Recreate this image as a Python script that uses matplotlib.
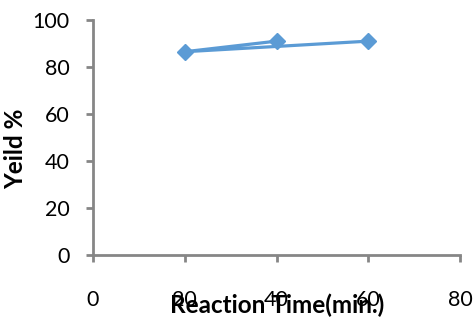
import matplotlib.pyplot as plt

plt.rcParams['font.family'] = ['Lato', 'DejaVu Sans']

# data (order as drawn in the reference)
times = [40, 20, 60]
yields = [91.0, 86.5, 91.0]

xticks = [0, 20, 40, 60, 80]
yticks = [0, 20, 40, 60, 80, 100]

lineColour = "#5b9bd5"
axisColour = "#868686"

fig = plt.figure(figsize=(4.76, 3.22), dpi=100, facecolor='w')
ax = fig.add_axes([93/476, 1-255/322, (460-93)/476, (255-20)/322])

ax.plot(times, yields, color=lineColour, linewidth=2.3, marker='D', markersize=8.5, clip_on=False)

ax.set_xlim(0, 80)
ax.set_ylim(0, 100)
ax.set_xticks(xticks)
ax.set_yticks(yticks)

for side in ['top', 'right']:
    ax.spines[side].set_visible(False)
for side in ['left', 'bottom']:
    ax.spines[side].set_color(axisColour)
    ax.spines[side].set_linewidth(2)

ax.tick_params(axis='both', direction='out', length=5, width=2, color=axisColour, labelsize=15.5, labelcolor='black')
ax.tick_params(axis='x', pad=20)
ax.tick_params(axis='y', pad=12)

# axis titles
fig.text(277/476, 1-305/322, "Reaction Time(min.)", ha='center', va='center', fontsize=17.5, fontweight='bold')
fig.text(16/476, 1-149/322, "Yeild %", ha='center', va='center', rotation=90, fontsize=17.5, fontweight='bold')

plt.savefig("out.png", dpi=100)
